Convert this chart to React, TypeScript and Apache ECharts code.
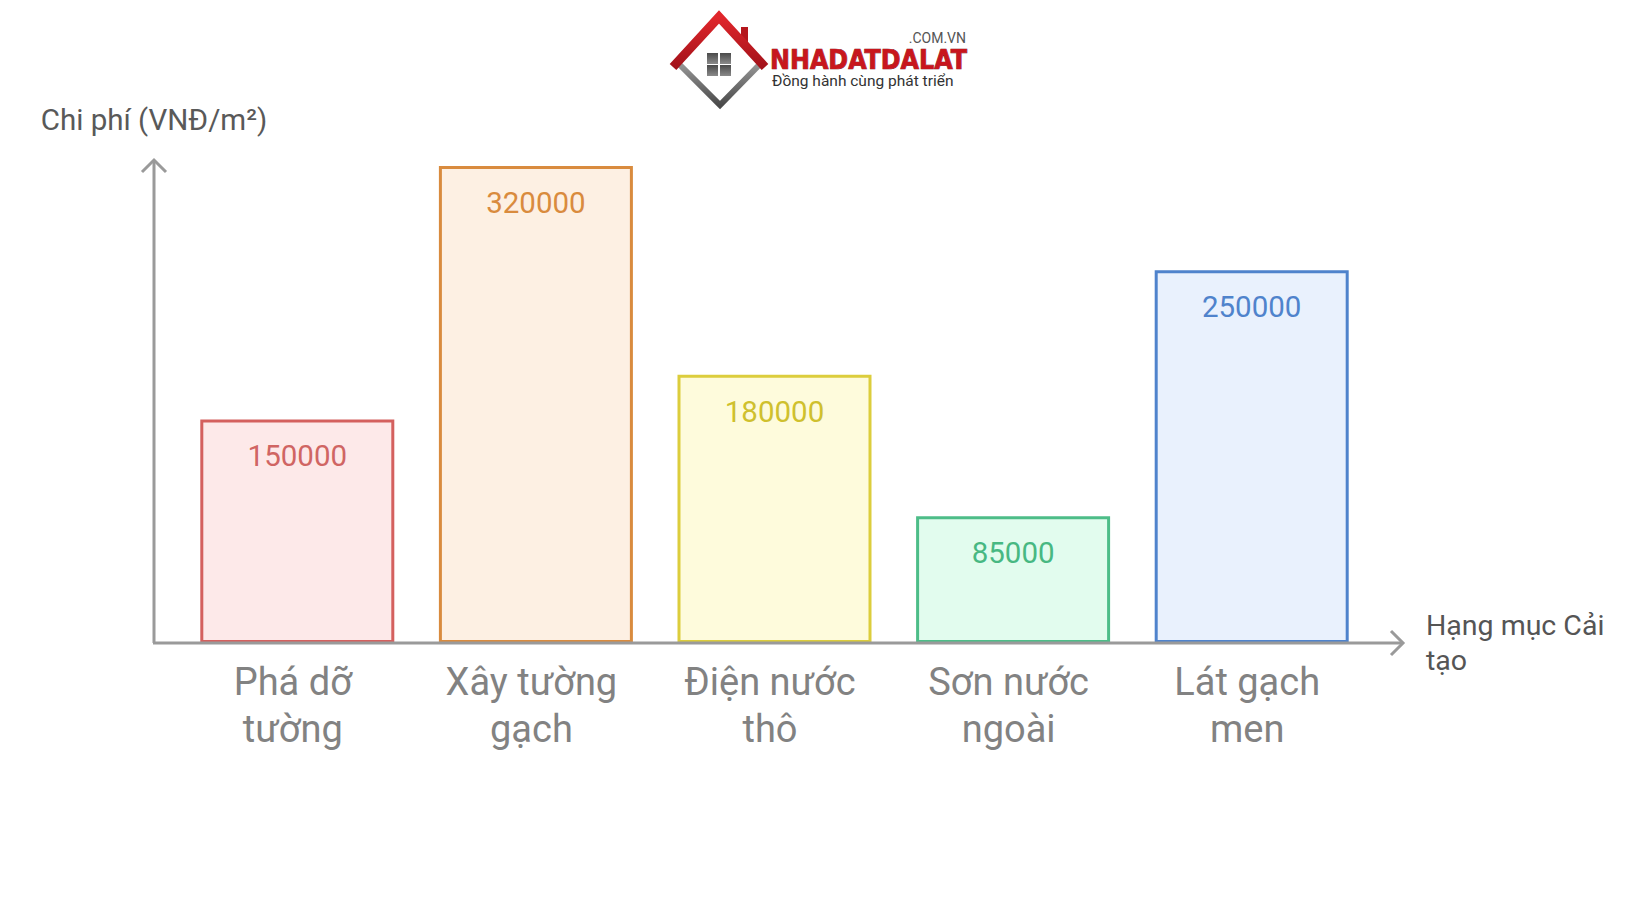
import React, { useEffect, useRef } from 'react';
import * as echarts from 'echarts';

const categories = ['Phá dỡ tường', 'Xây tường gạch', 'Điện nước thô', 'Sơn nước ngoài', 'Lát gạch men'];
const costs = [150000, 320000, 180000, 85000, 250000];
const borderColors = ['#d4605e', '#d98b3e', '#dccd3c', '#4dbd88', '#4f83cc'];
const fillColors = ['#fde9e9', '#fdf0e3', '#fefbdc', '#e2fcee', '#e9f1fd'];
const labelColors = ['#d06563', '#d98b3e', '#cfc02e', '#47b882', '#4f83cc'];
const yAxisName = 'Chi phí (VNĐ/m²)';
const xAxisName = 'Hạng mục Cải\ntạo';
const logoTitle = 'NHADATDALAT';
const logoDomain = '.COM.VN';
const logoSlogan = 'Đồng hành cùng phát triển';

const AXIS_COLOR = '#9a9a9a';

// wrap a category name onto two lines at its last space
const wrapLabel = (v: string) => {
  const i = v.lastIndexOf(' ');
  return i < 0 ? v : v.slice(0, i) + '\n' + v.slice(i + 1);
};

export default function App() {
  const ref = useRef<HTMLDivElement>(null);

  useEffect(() => {
    document.body.style.margin = '0';
    if (!ref.current) return;
    const chart = echarts.init(ref.current, undefined, { renderer: 'svg' });

    const windowPanes = [
      [707, 53], [720, 53], [707, 65], [720, 65],
    ].map(([x, y]) => ({
      type: 'rect',
      shape: { x, y, width: 11, height: 11 },
      style: {
        fill: new echarts.graphic.LinearGradient(0, 0, 0, 1, [
          { offset: 0, color: '#4a4a4a' },
          { offset: 1, color: '#8a8a8a' },
        ]),
      },
      z: 20,
    }));

    chart.setOption({
      animation: false,
      backgroundColor: '#ffffff',
      textStyle: { fontFamily: 'Roboto' },
      grid: { left: 178, right: 269, top: 166, bottom: 281, containLabel: false },
      xAxis: {
        type: 'category',
        data: categories,
        axisLine: { show: false },
        axisTick: { show: false },
        axisLabel: {
          interval: 0,
          margin: 15,
          fontSize: 38,
          lineHeight: 47,
          color: '#828282',
          fontFamily: 'Roboto',
          padding: [0, 9, 0, 0],
          formatter: wrapLabel,
        },
        name: xAxisName,
        nameLocation: 'end',
        nameGap: 55,
        nameTextStyle: {
          fontSize: 28.5,
          lineHeight: 35,
          color: '#555555',
          fontFamily: 'Roboto',
          align: 'left',
          verticalAlign: 'middle',
        },
      },
      yAxis: {
        type: 'value',
        min: 0,
        max: 320000,
        offset: 24,
        axisLine: { show: false },
        axisTick: { show: false },
        axisLabel: { show: false },
        splitLine: { show: false },
        name: yAxisName,
        nameLocation: 'end',
        nameGap: 31,
        nameTextStyle: {
          fontSize: 29.5,
          color: '#595959',
          fontFamily: 'Roboto',
          align: 'center',
        },
      },
      series: [
        {
          type: 'bar',
          barWidth: 194,
          data: costs.map((v, i) => ({
            value: v,
            itemStyle: {
              color: fillColors[i],
              borderColor: borderColors[i],
              borderWidth: 3,
            },
            label: { color: labelColors[i] },
          })),
          label: {
            show: true,
            position: 'insideTop',
            distance: 22,
            fontSize: 29.5,
            fontFamily: 'Roboto',
          },
        },
      ],
      graphic: [
        // axes
        {
          type: 'line',
          shape: { x1: 154, y1: 643, x2: 154, y2: 160 },
          style: { stroke: AXIS_COLOR, lineWidth: 3 },
          z: 10,
        },
        {
          type: 'polyline',
          shape: { points: [[142, 172], [154, 160], [166, 172]] },
          style: { stroke: AXIS_COLOR, lineWidth: 3, fill: 'none' },
          z: 10,
        },
        {
          type: 'line',
          shape: { x1: 153, y1: 643, x2: 1403, y2: 643 },
          style: { stroke: AXIS_COLOR, lineWidth: 3 },
          z: 10,
        },
        {
          type: 'polyline',
          shape: { points: [[1391, 631], [1403, 643], [1391, 655]] },
          style: { stroke: AXIS_COLOR, lineWidth: 3, fill: 'none' },
          z: 10,
        },
        // logo
        {
          type: 'polygon',
          shape: { points: [[719, 18], [761, 63], [720, 105], [678, 63]] },
          style: { fill: '#ffffff', shadowBlur: 4, shadowColor: 'rgba(0,0,0,0.15)' },
          z: 18,
        },
        {
          type: 'polyline',
          shape: { points: [[677, 62], [720, 105], [762, 62]] },
          style: {
            stroke: new echarts.graphic.LinearGradient(0, 0, 0, 1, [
              { offset: 0, color: '#9a9a9a' },
              { offset: 1, color: '#4a4a4a' },
            ]),
            lineWidth: 6,
            fill: 'none',
          },
          z: 19,
        },
        {
          type: 'rect',
          shape: { x: 741, y: 27, width: 7, height: 15 },
          style: { fill: '#b5161c' },
          z: 19,
        },
        {
          type: 'polyline',
          shape: { points: [[673, 67], [719, 17], [765, 67]] },
          style: {
            stroke: new echarts.graphic.LinearGradient(0, 0, 0, 1, [
              { offset: 0, color: '#e0262b' },
              { offset: 1, color: '#a3121a' },
            ]),
            lineWidth: 9,
            fill: 'none',
          },
          z: 20,
        },
        ...windowPanes,
        {
          type: 'text',
          x: 770,
          y: 59,
          style: {
            text: logoTitle,
            fontFamily: 'DejaVu Sans Condensed',
            fontWeight: 'bold',
            fontSize: 26.5,
            fill: '#c8161d',
            stroke: '#7a0d12',
            lineWidth: 0.7,
            textAlign: 'left',
            textVerticalAlign: 'middle',
          },
          z: 20,
        },
        {
          type: 'text',
          x: 966,
          y: 38,
          style: {
            text: logoDomain,
            fontFamily: 'Roboto',
            fontSize: 14,
            fill: '#555555',
            textAlign: 'right',
            textVerticalAlign: 'middle',
          },
          z: 20,
        },
        {
          type: 'text',
          x: 772,
          y: 81,
          style: {
            text: logoSlogan,
            fontFamily: 'Roboto',
            fontSize: 15.5,
            fill: '#333333',
            textAlign: 'left',
            textVerticalAlign: 'middle',
          },
          z: 20,
        },
      ],
    });

    return () => chart.dispose();
  }, []);

  return <div ref={ref} style={{ width: 1640, height: 924 }} />;
}
